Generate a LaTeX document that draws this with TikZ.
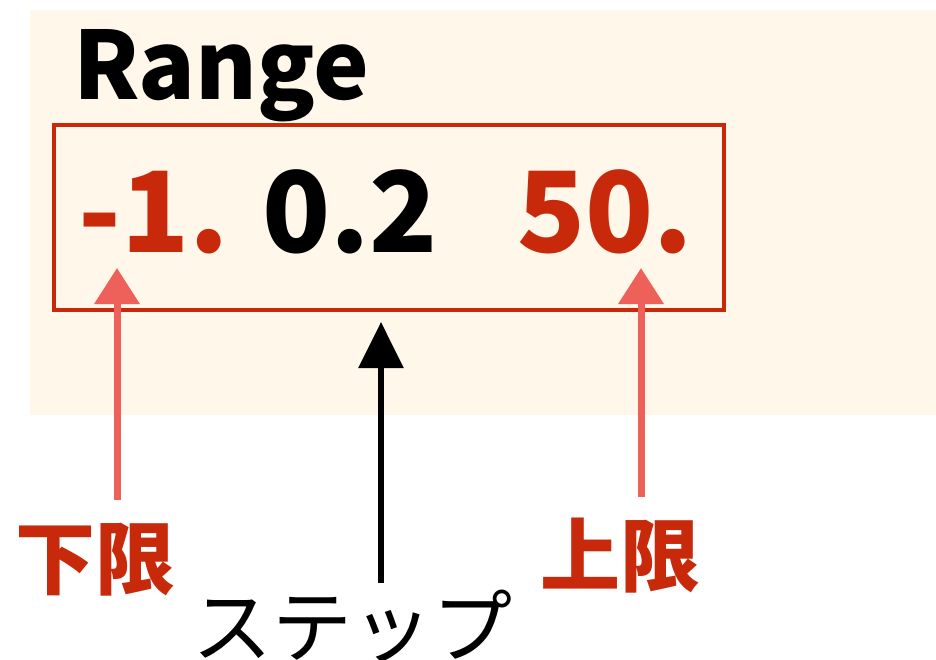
\documentclass[tikz,border=0pt]{standalone}
\usepackage{fontspec}
\setmainfont{Noto Sans CJK JP}
\usetikzlibrary{arrows.meta}
\definecolor{bg}{HTML}{FEF7EA}
\definecolor{boxred}{HTML}{C8290A}
\definecolor{arrowred}{HTML}{EE605A}
\tikzset{
  big/.style={font=\fontsize{112}{112}\selectfont\bfseries, inner sep=0, anchor=base west},
  lbl/.style={font=\fontsize{80}{80}\selectfont, inner sep=0},
  redarrow/.style={draw=arrowred, line width=7pt, -{Triangle[width=44pt,length=36pt]}},
  blackarrow/.style={draw=black, line width=6pt, -{Triangle[width=44pt,length=46pt]}},
}
\begin{document}
\begin{tikzpicture}[x=1pt,y=-1pt]
\useasboundingbox (0,0) rectangle (936,660);
\fill[bg] (30,10) rectangle (936,415);
\node[anchor=base west, font=\fontsize{94}{94}\selectfont\bfseries, inner sep=0] (title) at (73,100) {Range};
\node[draw=boxred, line width=4pt, minimum width=670pt, minimum height=185pt, anchor=north west, inner sep=0] (box) at (52,123) {};
\node[big, text=boxred] (lo) at (78,252) {-1.};
\node[big] (st) at (262,252) {0.2};
\node[big, text=boxred] (hi) at (517,252) {50.};
\node[lbl, text=boxred, font=\fontsize{80}{80}\selectfont\bfseries] (lolbl) at (95,560) {下限};
\node[lbl, text=boxred, font=\fontsize{80}{80}\selectfont\bfseries] (hilbl) at (620,556) {上限};
\node[lbl] (stlbl) at (352,626) {ステップ};
\coordinate (lotail) at (117,500);
\coordinate (lotip) at (117,268);
\coordinate (hitail) at (641,497);
\coordinate (hitip) at (641,268);
\coordinate (sttail) at (381,583);
\coordinate (sttip) at (381,322);
\draw[redarrow] (lotail) -- (lotip);
\draw[redarrow] (hitail) -- (hitip);
\draw[blackarrow] (sttail) -- (sttip);
\end{tikzpicture}
\end{document}
